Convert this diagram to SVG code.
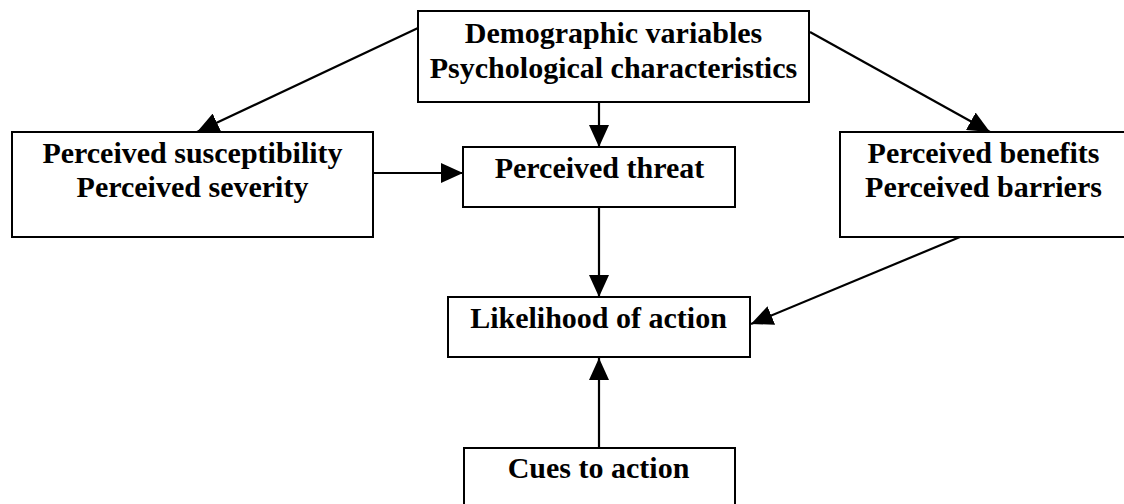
<svg xmlns="http://www.w3.org/2000/svg" width="1124" height="504" viewBox="0 0 1124 504">
  <style>
    .box { fill: #ffffff; stroke: #000000; stroke-width: 2; }
    .label { font-family: "Liberation Serif", "Times New Roman", serif; font-weight: bold; font-size: 30px; fill: #000000; text-anchor: middle; }
    .edge { fill: none; stroke: #000000; stroke-width: 2.2; }
  </style>
  <defs>
    <marker id="arrow" viewBox="0 0 22 20" refX="22" refY="10" markerWidth="22" markerHeight="20" markerUnits="userSpaceOnUse" orient="auto">
      <path d="M0,0 L22,10 L0,20 Z" fill="#000000"/>
    </marker>
  </defs>
  <rect width="1124" height="504" fill="#ffffff"/>

  <g id="connectors">
    <line class="edge" x1="418" y1="28" x2="197" y2="132" marker-end="url(#arrow)"/>
    <line class="edge" x1="810" y1="32" x2="990" y2="132" marker-end="url(#arrow)"/>
    <line class="edge" x1="599" y1="102" x2="599" y2="147" marker-end="url(#arrow)"/>
    <line class="edge" x1="373" y1="173" x2="463" y2="173" marker-end="url(#arrow)"/>
    <line class="edge" x1="599" y1="207" x2="599" y2="297" marker-end="url(#arrow)"/>
    <line class="edge" x1="960" y1="237" x2="751" y2="324" marker-end="url(#arrow)"/>
    <line class="edge" x1="599" y1="448" x2="599" y2="358" marker-end="url(#arrow)"/>
  </g>

  <g id="demographics">
    <rect class="box" x="418" y="11" width="391" height="91"/>
    <text class="label" x="613.5" y="43">Demographic variables</text>
    <text class="label" x="613.5" y="78">Psychological characteristics</text>
  </g>

  <g id="susceptibility-severity">
    <rect class="box" x="12" y="132" width="361" height="105"/>
    <text class="label" x="192.5" y="163">Perceived susceptibility</text>
    <text class="label" x="192.5" y="197">Perceived severity</text>
  </g>

  <g id="threat">
    <rect class="box" x="463" y="147" width="272" height="60"/>
    <text class="label" x="599.5" y="178">Perceived threat</text>
  </g>

  <g id="benefits-barriers">
    <rect class="box" x="840" y="132" width="294" height="105"/>
    <text class="label" x="983.5" y="163">Perceived benefits</text>
    <text class="label" x="983.5" y="197">Perceived barriers</text>
  </g>

  <g id="likelihood">
    <rect class="box" x="448" y="297" width="302" height="60"/>
    <text class="label" x="598.5" y="328">Likelihood of action</text>
  </g>

  <g id="cues">
    <rect class="box" x="464" y="448" width="271" height="70"/>
    <text class="label" x="598.5" y="478">Cues to action</text>
  </g>
</svg>
